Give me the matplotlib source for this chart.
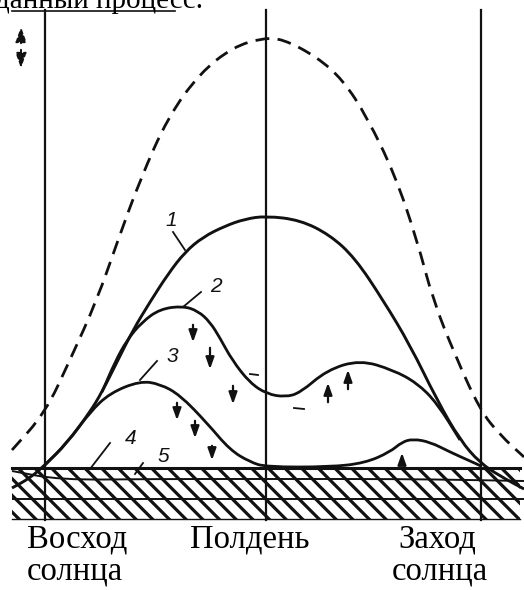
import matplotlib
matplotlib.use("Agg")
import matplotlib.pyplot as plt
from matplotlib.path import Path
from matplotlib.patches import PathPatch, Rectangle

# Coordinates (pixels, y grows downward)
W, H = 524, 590

# dashed curve (top envelope)
dash_x = [12, 45, 70, 97, 118, 140, 168, 200, 233, 263, 283, 317, 343, 367, 395, 417, 433, 455, 480, 500, 524]
dash_y = [450, 413, 360, 300, 240, 180, 117, 73, 47, 38, 39, 57, 80, 117, 175, 240, 300, 355, 410, 435, 457]

# curve 1
c1_x = [12, 30, 45, 67, 90, 102, 117, 133, 150, 168, 185, 203, 225, 245, 266, 300, 330, 355, 383, 410, 437, 460, 480, 500, 524]
c1_y = [488, 478, 465, 443, 412, 392, 362, 330, 302, 274, 252, 237, 226, 219, 216, 220, 235, 258, 300, 345, 400, 440, 463, 476, 489]

# curve 2
c2_x = [102, 115, 127, 142, 160, 183, 198, 210, 220, 232, 250, 267, 285, 300, 327, 360, 393, 417, 437, 460]
c2_y = [392, 362, 340, 322, 309, 306, 311, 322, 338, 360, 383, 394, 397, 393, 370, 360, 370, 383, 403, 440]

# curve 3 (morning hump and afternoon hump)
c3_x = [45, 67, 90, 110, 140, 160, 180, 207, 230, 250, 266, 330, 365, 390, 402, 413, 430, 450, 470, 481]
c3_y = [465, 443, 412, 393, 381, 384, 395, 423, 450, 462, 467, 467, 463, 452, 442, 439, 442, 452, 461, 466]

# curves 4 and 5 inside the hatched band
c4_x = [12, 60, 150, 266, 400, 470, 524]
c4_y = [471, 480, 479, 479, 479, 480, 481]
c5_x = [12, 266, 524]
c5_y = [499, 499, 499]

band_x = (12, 520)
band_y = (468, 519)

vlines_x = [45, 266, 481]
vlines_y = (10, 520)

# arrows: (x, y_start, y_end)
down_arrows = [(193, 322, 345), (210, 345, 372), (233, 383, 407),
               (177, 400, 423), (195, 418, 441), (212, 443, 463)]
up_arrows = [(328, 405, 380), (348, 392, 367), (402, 465, 450)]

# small specks next to curve 2
specks = [((250, 258), (374, 375)), ((294, 304), (408, 409))]

# curve labels: text, label pos, leader start, leader end
labels = [("1", (165, 226), (173, 232), (185, 250)),
          ("2", (210, 292), (201, 292), (183, 307)),
          ("3", (167, 362), (157, 361), (140, 380)),
          ("4", (125, 444), (110, 443), (90, 469)),
          ("5", (158, 462), (143, 463), (135, 474))]

captions = [("Восход", 27, 547), ("солнца", 27, 580), ("Полдень", 190, 547),
            ("Заход", 398, 547), ("солнца", 392, 580)]


def smooth_path(xs, ys):
    # quadratic bezier through midpoints of the read points
    pts = list(zip(xs, ys))
    verts = [pts[0]]
    codes = [Path.MOVETO]
    mid = ((pts[0][0] + pts[1][0]) / 2, (pts[0][1] + pts[1][1]) / 2)
    verts.append(mid)
    codes.append(Path.LINETO)
    for i in range(1, len(pts) - 1):
        nxt = ((pts[i][0] + pts[i + 1][0]) / 2, (pts[i][1] + pts[i + 1][1]) / 2)
        verts += [pts[i], nxt]
        codes += [Path.CURVE3, Path.CURVE3]
    verts.append(pts[-1])
    codes.append(Path.LINETO)
    return Path(verts, codes)


plt.rcParams['hatch.linewidth'] = 2.3
fig = plt.figure(figsize=(W / 100, H / 100), dpi=100)
ax = fig.add_axes([0, 0, 1, 1])
ax.set_xlim(0, W)
ax.set_ylim(H, 0)
ax.axis('off')

ink = '#111111'

# hatched ground band
ax.add_patch(Rectangle((band_x[0], band_y[0]), band_x[1] - band_x[0], band_y[1] - band_y[0],
                       facecolor='white', edgecolor=ink, hatch='\\\\', linewidth=0, zorder=1))
ax.plot(band_x, [band_y[0]] * 2, color=ink, lw=2.2, zorder=3)
ax.plot(band_x, [band_y[1]] * 2, color=ink, lw=1.0, zorder=3)

for x in vlines_x:
    ax.plot([x, x], vlines_y, color=ink, lw=1.6, zorder=3)
ax.plot([12, 175], [11, 11], color=ink, lw=1.2)

ax.add_patch(PathPatch(smooth_path(dash_x, dash_y), fill=False, edgecolor=ink, lw=2.0,
                       linestyle=(0, (5, 3)), zorder=4))
for xs, ys, lw in [(c1_x, c1_y, 2.1), (c2_x, c2_y, 2.0), (c3_x, c3_y, 2.0),
                   (c4_x, c4_y, 1.4), (c5_x, c5_y, 1.4)]:
    ax.add_patch(PathPatch(smooth_path(xs, ys), fill=False, edgecolor=ink, lw=lw, zorder=4))

for x, y0, y1 in down_arrows + up_arrows:
    ax.annotate('', xy=(x, y1), xytext=(x, y0),
                arrowprops=dict(arrowstyle='-|>,head_length=0.7,head_width=0.25',
                                color=ink, lw=1.6), zorder=5)

for sx, sy in specks:
    ax.plot(sx, sy, color=ink, lw=1.3)

# double arrow legend at top-left
ax.annotate('', xy=(21, 24), xytext=(21, 46),
            arrowprops=dict(arrowstyle='-|>,head_length=0.9,head_width=0.32', color=ink, lw=1.4,
                            linestyle=(0, (2, 1.5))))
ax.annotate('', xy=(21, 71), xytext=(21, 47),
            arrowprops=dict(arrowstyle='-|>,head_length=0.9,head_width=0.32', color=ink, lw=1.4,
                            linestyle=(0, (2, 1.5))))

for txt, pos, l0, l1 in labels:
    ax.text(pos[0], pos[1], txt, fontsize=15, fontstyle='italic', family='Liberation Sans',
            ha='left', va='baseline', color=ink, zorder=6)
    ax.plot([l0[0], l1[0]], [l0[1], l1[1]], color=ink, lw=1.3, zorder=5)

for txt, x, y in captions:
    ax.text(x, y, txt, fontsize=23.5, family='Liberation Serif', ha='left', va='baseline',
            color='black')

# partial heading cut by the top edge of the scan
ax.text(-5, 8, "данный процесс.", fontsize=21, family='Liberation Serif',
        ha='left', va='baseline', color='black')

fig.savefig('out.png', dpi=100, facecolor='white')
